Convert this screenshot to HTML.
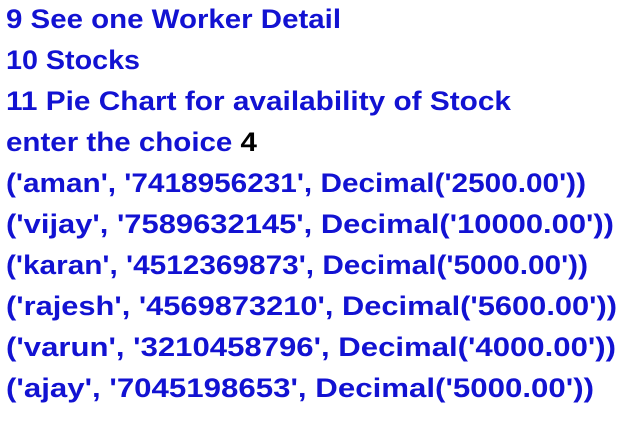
<!DOCTYPE html>
<html><head><meta charset="utf-8"><style>
html,body{margin:0;padding:0;background:#fff;width:638px;height:421px;overflow:hidden}
svg text{font-family:"Liberation Sans",sans-serif;font-weight:bold;font-size:27px;fill:#1212d2}
</style></head><body>
<svg width="638" height="421">
<text x="6" y="28" textLength="335" lengthAdjust="spacingAndGlyphs">9 See one Worker Detail</text>
<text x="6" y="69" textLength="134" lengthAdjust="spacingAndGlyphs">10 Stocks</text>
<text x="6" y="110" textLength="505" lengthAdjust="spacingAndGlyphs">11 Pie Chart for availability of Stock</text>
<text x="6" y="151" textLength="251" lengthAdjust="spacingAndGlyphs">enter the choice <tspan style="fill:#000">4</tspan></text>
<text x="6" y="192" textLength="580" lengthAdjust="spacingAndGlyphs">('aman', '7418956231', Decimal('2500.00'))</text>
<text x="6" y="233" textLength="608" lengthAdjust="spacingAndGlyphs">('vijay', '7589632145', Decimal('10000.00'))</text>
<text x="6" y="274" textLength="582" lengthAdjust="spacingAndGlyphs">('karan', '4512369873', Decimal('5000.00'))</text>
<text x="6" y="315" textLength="611" lengthAdjust="spacingAndGlyphs">('rajesh', '4569873210', Decimal('5600.00'))</text>
<text x="6" y="356" textLength="610" lengthAdjust="spacingAndGlyphs">('varun', '3210458796', Decimal('4000.00'))</text>
<text x="6" y="397" textLength="588" lengthAdjust="spacingAndGlyphs">('ajay', '7045198653', Decimal('5000.00'))</text>
</svg>
</body></html>
